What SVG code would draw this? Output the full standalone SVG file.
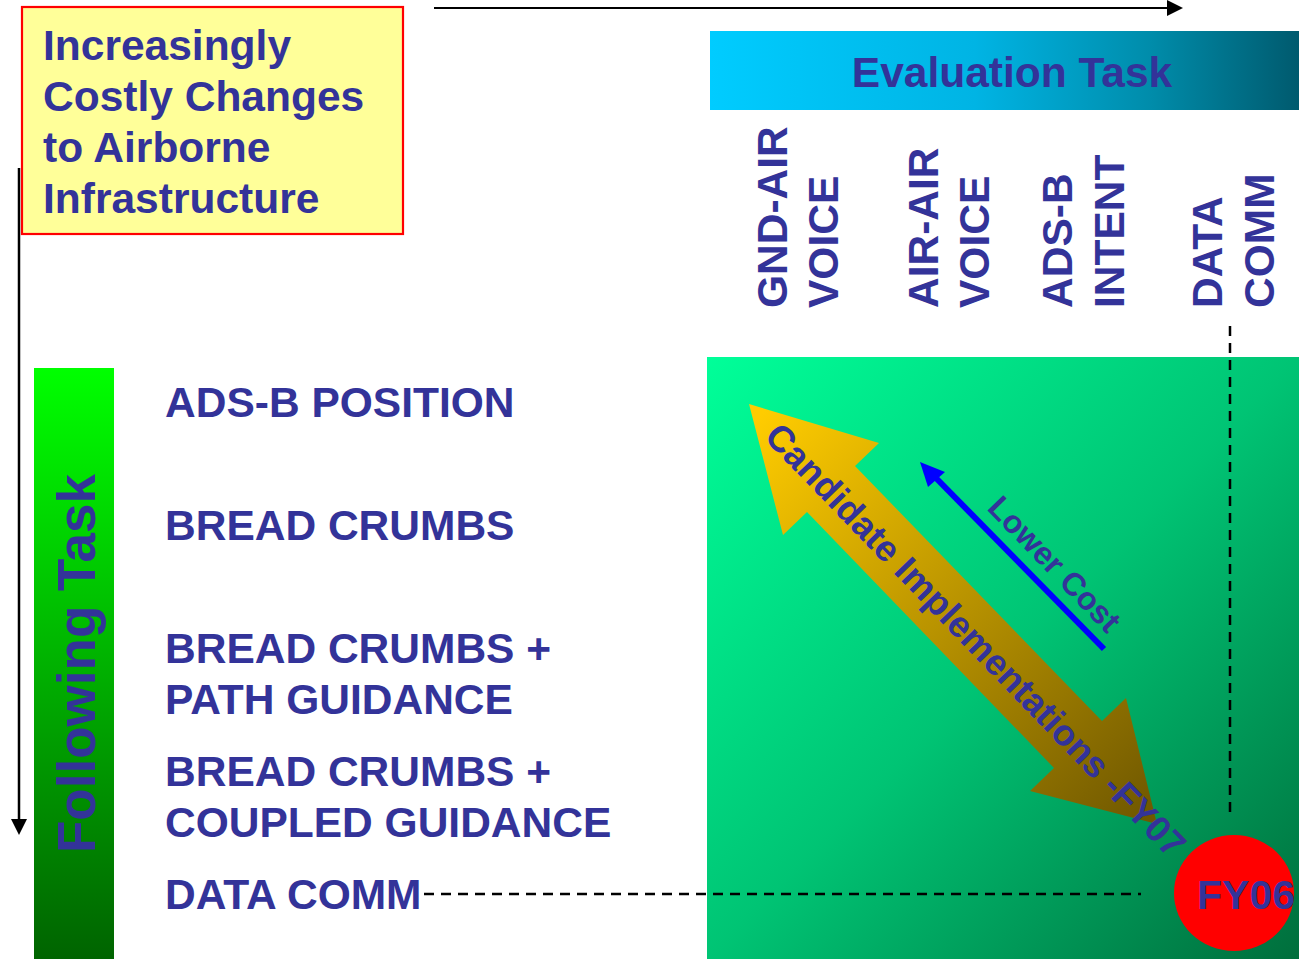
<svg xmlns="http://www.w3.org/2000/svg" width="1299" height="959" viewBox="0 0 1299 959">
<defs>
<style>
.t{font-family:"Liberation Sans",Arial,sans-serif;font-weight:bold;fill:#333399;}
.f42{font-size:42.5px;}
.dash{stroke:#000;stroke-width:2.5;stroke-dasharray:10 7;fill:none;}
</style>
<linearGradient id="gEval" x1="0" y1="0" x2="1" y2="0">
<stop offset="0" stop-color="#00CCFF"/>
<stop offset="0.45" stop-color="#00B4E4"/>
<stop offset="0.75" stop-color="#008CAA"/>
<stop offset="1" stop-color="#005A6E"/>
</linearGradient>
<linearGradient id="gSq" x1="0" y1="0" x2="1" y2="1">
<stop offset="0" stop-color="#00FF99"/>
<stop offset="0.5" stop-color="#00C474"/>
<stop offset="1" stop-color="#006E3C"/>
</linearGradient>
<linearGradient id="gBar" x1="0" y1="0" x2="0" y2="1">
<stop offset="0" stop-color="#00FF00"/>
<stop offset="1" stop-color="#006400"/>
</linearGradient>
<linearGradient id="gArr" gradientUnits="userSpaceOnUse" x1="760" y1="415" x2="1150" y2="815">
<stop offset="0" stop-color="#FFCC00"/>
<stop offset="1" stop-color="#705800"/>
</linearGradient>
<marker id="ah" markerUnits="userSpaceOnUse" markerWidth="16" markerHeight="16" refX="0" refY="8" orient="auto" viewBox="0 0 16 16">
<path d="M0,0 L16,8 L0,16 Z" fill="#000"/>
</marker>
</defs>
<rect x="0" y="0" width="1299" height="959" fill="#fff"/>

<g id="costly-box">
<rect x="22" y="7" width="381" height="227" fill="#FFFF99" stroke="#FF0000" stroke-width="2.2"/>
<text class="t f42" x="43" y="60">Increasingly</text>
<text class="t f42" x="43" y="111">Costly Changes</text>
<text class="t f42" x="43" y="162">to Airborne</text>
<text class="t f42" x="43" y="213">Infrastructure</text>
</g>

<g id="connectors">
<line x1="434" y1="8" x2="1167" y2="8" stroke="#000" stroke-width="2" marker-end="url(#ah)"/>
<line x1="19" y1="168" x2="19" y2="819" stroke="#000" stroke-width="2.5" marker-end="url(#ah)"/>
</g>

<g id="evaluation-task">
<rect x="710" y="31" width="589" height="79" fill="url(#gEval)"/>
<text class="t f42" x="1012" y="87" text-anchor="middle">Evaluation Task</text>
</g>

<g id="eval-columns">
<text class="t f42" transform="translate(787,308) rotate(-90)">GND-AIR</text>
<text class="t f42" transform="translate(838,308) rotate(-90)">VOICE</text>
<text class="t f42" transform="translate(938,308) rotate(-90)">AIR-AIR</text>
<text class="t f42" transform="translate(989,308) rotate(-90)">VOICE</text>
<text class="t f42" transform="translate(1072,308) rotate(-90)">ADS-B</text>
<text class="t f42" transform="translate(1124,308) rotate(-90)">INTENT</text>
<text class="t f42" transform="translate(1222,308) rotate(-90)">DATA</text>
<text class="t f42" transform="translate(1274,308) rotate(-90)">COMM</text>
</g>

<g id="following-task">
<rect x="34" y="368" width="80" height="591" fill="url(#gBar)"/>
<text class="t" font-size="53" transform="translate(95,853) rotate(-90)">Following Task</text>
</g>

<g id="follow-rows">
<text class="t f42" x="165" y="417">ADS-B POSITION</text>
<text class="t f42" x="165" y="540">BREAD CRUMBS</text>
<text class="t f42" x="165" y="663">BREAD CRUMBS +</text>
<text class="t f42" x="165" y="714">PATH GUIDANCE</text>
<text class="t f42" x="165" y="786">BREAD CRUMBS +</text>
<text class="t f42" x="165" y="837">COUPLED GUIDANCE</text>
<text class="t f42" x="165" y="909">DATA COMM</text>
</g>

<g id="matrix">
<rect x="707" y="357" width="592" height="602" fill="url(#gSq)"/>
</g>

<g id="guides">
<line class="dash" x1="1230" y1="326" x2="1230" y2="817"/>
<line class="dash" x1="424" y1="894" x2="1141" y2="894"/>
</g>

<g id="candidate-arrow">
<polygon points="749,404 879,443 855,466 1102,721 1126,698 1157,824 1030,791 1054,768 807,512 783,535" fill="url(#gArr)"/>
<text class="t" font-size="36.5" transform="translate(763,438) rotate(46)">Candidate Implementations -FY07</text>
</g>

<g id="lower-cost">
<line x1="1104" y1="649" x2="934" y2="476" stroke="#0000FF" stroke-width="6"/>
<polygon points="920,462 945,472 928,487" fill="#0000FF"/>
<text class="t" font-size="32" transform="translate(986,509) rotate(46)">Lower Cost</text>
</g>

<g id="fy06">
<ellipse cx="1234" cy="893" rx="60" ry="58" fill="#FF0000"/>
<text class="t" font-size="41" x="1197" y="909">FY06</text>
</g>
</svg>
